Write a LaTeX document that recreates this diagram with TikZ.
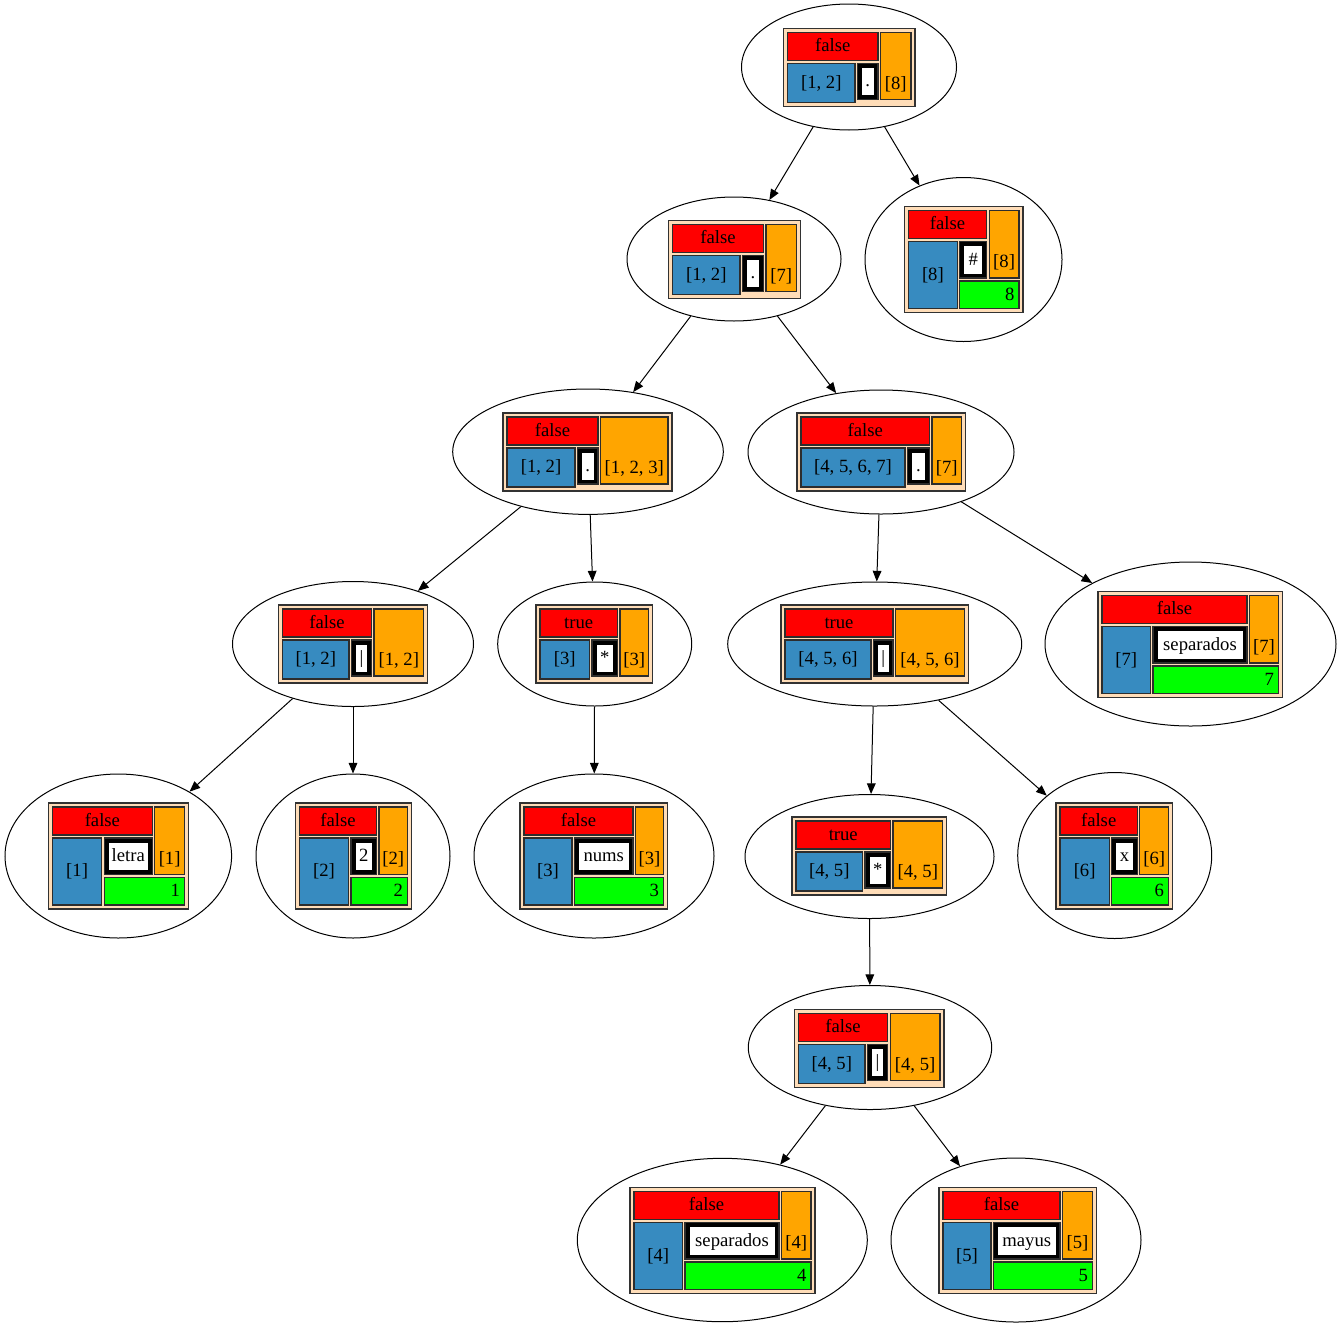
\documentclass[tikz,border=0pt]{standalone}
\usepackage{fontspec}
\setmainfont{Liberation Serif}
\usetikzlibrary{shapes.geometric,arrows.meta}
\definecolor{cred}{HTML}{FF0000}
\definecolor{corange}{HTML}{FFA500}
\definecolor{cblue}{RGB}{55,139,192}
\definecolor{cgreen}{HTML}{00FF00}
\definecolor{cpeach}{RGB}{255,221,184}
\definecolor{cborder}{RGB}{50,50,50}
\definecolor{ccell}{RGB}{45,45,45}
\tikzset{
  ell/.style={ellipse, draw=black, line width=0.75pt, inner sep=0pt},
  tblbox/.style={rectangle, fill=cpeach, draw=cborder, line width=1.4pt, inner sep=0pt, outer sep=0pt},
  cellbox/.style={rectangle, draw=ccell, line width=0.9pt, inner sep=0pt, outer sep=0pt},
  whitebox/.style={rectangle, fill=white, inner sep=0pt, outer sep=0pt},
  txt/.style={inner sep=0pt, outer sep=0pt, font=\fontsize{14}{16}\selectfont, text height=10.5pt, text depth=2.5pt},
  conn/.style={-{Triangle[length=8pt,width=6.5pt]}, line width=0.75pt},
}
\newcommand\boxat[6]{\node[#1, minimum width={((#5)-(#3))*0.75pt}, minimum height={((#6)-(#4))*0.75pt}] (#2) at ({((#3)+(#5))/2},{((#4)+(#6))/2}) {};}
\newcommand\ellat[5]{\node[ell, minimum width={2*(#4)*0.75pt}, minimum height={2*(#5)*0.75pt}] (#1) at (#2,#3) {};}
\def\tblparse#1,#2,#3,#4,#5\endparse{\def\tbX{#1}\def\tbY{#2}\def\tbXe{#3}\def\tbXb{#4}\def\tbXr{#5}}
\newcommand\tbl[7]{%
  \tblparse#2\endparse
  \ifx\relax#7\relax \def\tbH{78}\else\def\tbH{106}\fi
  \pgfmathsetmacro\tbYe{\tbY+\tbH}
  \pgfmathsetmacro\tbXa{\tbX+4}
  \pgfmathsetmacro\tbYa{\tbY+4}
  \pgfmathsetmacro\tbYr{\tbY+32}
  \pgfmathsetmacro\tbYb{\tbY+35}
  \pgfmathsetmacro\tbXo{\tbXr+2.5}
  \pgfmathsetmacro\tbXk{\tbXb+2.5}
  \pgfmathsetmacro\tbXf{\tbXe-4}
  \pgfmathsetmacro\tbYf{\tbYe-4}
  \ifx\relax#7\relax \pgfmathsetmacro\tbYm{\tbYe-7}\else\pgfmathsetmacro\tbYm{\tbY+71.5}\fi
  \boxat{tblbox}{#1t}{\tbX}{\tbY}{\tbXe}{\tbYe}
  \boxat{cellbox,fill=cred}{#1r}{\tbXa}{\tbYa}{\tbXr}{\tbYr}
  \node[txt] (#1rt) at (#1r) {#3};
  \boxat{cellbox,fill=cblue}{#1b}{\tbXa}{\tbYb}{\tbXb}{\tbYf}
  \node[txt] (#1bt) at (#1b) {#4};
  \boxat{cellbox,fill=black}{#1k}{\tbXk}{\tbYb}{\tbXr}{\tbYm}
  \boxat{whitebox}{#1w}{\tbXk+4.5}{\tbYb+4.5}{\tbXr-4.5}{\tbYm-4.5}
  \node[txt] (#1wt) at (#1w) {#5};
  \boxat{cellbox,fill=corange}{#1o}{\tbXo}{\tbYa}{\tbXf}{\tbYm}
  \node[txt] (#1ot) at ([yshift=-13.5pt]#1o.center) {#6};
  \ifx\relax#7\relax\else
    \boxat{cellbox,fill=cgreen}{#1g}{\tbXk}{\tbYm+3}{\tbXf}{\tbYf}
    \node[txt,anchor=east] (#1gt) at ([xshift=-3.5pt]#1g.east) {#7};
  \fi
}
\begin{document}
\begin{tikzpicture}[x=0.75pt,y=-0.75pt]
\useasboundingbox (0,0) rectangle (1341,1328);
% ellipses
\ellat{e1}{849}{67}{107.5}{63}
\ellat{e2}{734}{259}{107}{62}
\ellat{e3}{963.5}{259.5}{98.5}{82}
\ellat{e4}{588}{451.7}{135.3}{62.7}
\ellat{e5}{881}{452}{133}{62}
\ellat{e6}{353}{644}{120.5}{62.5}
\ellat{e7}{594.7}{644}{97}{62}
\ellat{e8}{874.7}{644}{147}{62}
\ellat{e9}{1190.5}{644}{145.5}{82}
\ellat{e10}{118.3}{856}{113.3}{82}
\ellat{e11}{353}{856}{97}{82}
\ellat{e12}{594}{856}{120}{82}
\ellat{e13}{869.5}{856.5}{124.5}{62}
\ellat{e14}{1114.7}{855.5}{97}{83}
\ellat{e15}{870}{1047.5}{121.7}{62}
\ellat{e16}{722.3}{1240}{145}{81.7}
\ellat{e17}{1016}{1240}{125}{82}
% tables
\tbl{e1}{783.5,28.5,915,855,878}{false}{[1, 2]}{.}{[8]}{}
\tbl{e2}{668.5,220.5,800.5,740,763.5}{false}{[1, 2]}{.}{[7]}{}
\tbl{e3}{904.5,206.5,1023,957.3,986.7}{false}{[8]}{\#}{[8]}{8}
\tbl{e4}{503,413,672,575,598}{false}{[1, 2]}{.}{[1, 2, 3]}{}
\tbl{e5}{797,413,965.5,905,929.5}{false}{[4, 5, 6, 7]}{.}{[7]}{}
\tbl{e6}{278.5,605,427.5,349,371.5}{false}{[1, 2]}{|}{[1, 2]}{}
\tbl{e7}{536,605,652.5,589.5,617.5}{true}{[3]}{*}{[3]}{}
\tbl{e8}{781,605,968.5,871,893}{true}{[4, 5, 6]}{|}{[4, 5, 6]}{}
\tbl{e9}{1098,591.5,1282.5,1150.5,1247}{false}{[7]}{separados}{[7]}{7}
\tbl{e10}{48.5,803,188.5,101.7,152.3}{false}{[1]}{letra}{[1]}{1}
\tbl{e11}{295.5,803,411.5,348.5,376.5}{false}{[2]}{2}{[2]}{2}
\tbl{e12}{520,803,667.5,572,633}{false}{[3]}{nums}{[3]}{3}
\tbl{e13}{792,817,946.5,862.5,890.5}{true}{[4, 5]}{*}{[4, 5]}{}
\tbl{e14}{1056,803,1172.5,1109.3,1137.3}{false}{[6]}{x}{[6]}{6}
\tbl{e15}{794.5,1009.5,944,865,887.7}{false}{[4, 5]}{|}{[4, 5]}{}
\tbl{e16}{630,1187.5,815,682.5,779}{false}{[4]}{separados}{[4]}{4}
\tbl{e17}{939,1187.5,1096.5,991,1060}{false}{[5]}{mayus}{[5]}{5}
% connectors
\draw[conn] (e1) -- (e2);
\draw[conn] (e1) -- (e3);
\draw[conn] (e2) -- (e4);
\draw[conn] (e2) -- (e5);
\draw[conn] (e4) -- (e6);
\draw[conn] (e4) -- (e7);
\draw[conn] (e5) -- (e8);
\draw[conn] (e5) -- (e9);
\draw[conn] (e6) -- (e10);
\draw[conn] (e6) -- (e11);
\draw[conn] (e7) -- (e12);
\draw[conn] (e8) -- (e13);
\draw[conn] (e8) -- (e14);
\draw[conn] (e13) -- (e15);
\draw[conn] (e15) -- (e16);
\draw[conn] (e15) -- (e17);
\end{tikzpicture}
\end{document}
